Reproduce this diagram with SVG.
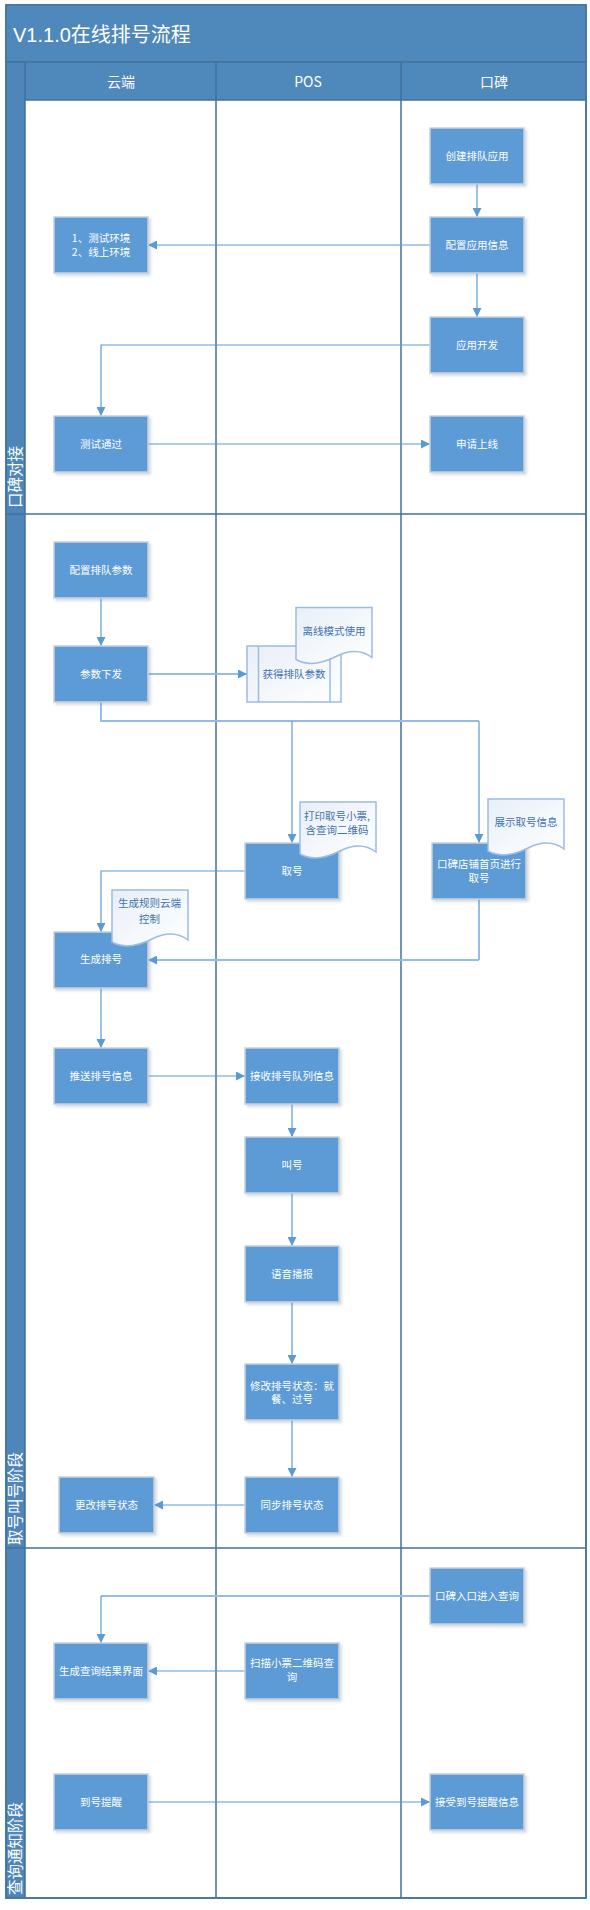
<svg xmlns="http://www.w3.org/2000/svg" width="590" height="1910" viewBox="0 0 590 1910">
<style>
.frame{fill:#ffffff;stroke:#41719C;stroke-width:1.5}
.bar{fill:#4F88BB}
.side{fill:#4E86B9}
.sep{stroke:#41719C;stroke-width:1.5;fill:none}
.title{font-family:"Liberation Sans","Noto Sans CJK SC",sans-serif;font-size:20px;fill:#ffffff}
.head{font-family:"Noto Sans CJK SC","Liberation Sans",sans-serif;font-size:14px;fill:#ffffff;text-anchor:middle}
.lane{font-family:"Noto Sans CJK SC",sans-serif;font-size:15.5px;fill:#ffffff}
.box{fill:#5B9BD5;stroke:#C9D1DB;stroke-width:1.5;filter:url(#sh)}
.bt{font-family:"Noto Sans CJK SC",sans-serif;font-size:10.5px;fill:#ffffff;text-anchor:middle}
.doc{fill:url(#dg);stroke:#9CBCE2;stroke-width:1.5}
.dt{font-family:"Noto Sans CJK SC",sans-serif;font-size:10.5px;fill:#3F72AF;text-anchor:middle}
.c{fill:none;stroke:#5B9BD5;stroke-width:1.2;marker-end:url(#ah)}
.cl{fill:none;stroke:#94BDE5;stroke-width:2;marker-end:url(#ah)}
.cn{fill:none;stroke:#5B9BD5;stroke-width:1.2}
.cln{fill:none;stroke:#94BDE5;stroke-width:2}
</style>
<defs>
<filter id="sh" x="-10%" y="-10%" width="130%" height="130%">
<feDropShadow dx="2" dy="2" stdDeviation="1.5" flood-color="#8090A0" flood-opacity="0.35"/>
</filter>
<linearGradient id="dg" x1="0" y1="0" x2="1" y2="1">
<stop offset="0" stop-color="#E8EFF8"/>
<stop offset="1" stop-color="#FFFFFF"/>
</linearGradient>
<marker id="ah" viewBox="0 0 10 10" refX="10" refY="5" markerWidth="9" markerHeight="9" markerUnits="userSpaceOnUse" orient="auto">
<path d="M0,0 L10,5 L0,10 z" fill="#5B9BD5"/>
</marker>
<path id="docshape" d="M0,0 H76 V50 C64,41 52,43 40,49 C30,54 14,60 0,52 Z"/>
</defs>

<!-- frame and lanes -->
<g id="swimlanes">
<rect class="frame" x="6" y="5" width="580" height="1893"/>
<rect class="bar" x="6" y="5" width="580" height="57"/>
<rect class="bar" x="25" y="62" width="561" height="38"/>
<rect class="side" x="6" y="62" width="19" height="1836"/>
<line class="sep" x1="6" y1="62" x2="586" y2="62"/>
<line class="sep" x1="25" y1="100" x2="586" y2="100"/>
<line class="sep" x1="25" y1="62" x2="25" y2="1898"/>
<line class="sep" x1="216" y1="62" x2="216" y2="1898"/>
<line class="sep" x1="401" y1="62" x2="401" y2="1898"/>
<line class="sep" x1="6" y1="514" x2="586" y2="514"/>
<line class="sep" x1="6" y1="1548" x2="586" y2="1548"/>
<rect x="6" y="5" width="580" height="1893" fill="none" stroke="#41719C" stroke-width="1.5"/>
<text class="title" x="13" y="42">V1.1.0在线排号流程</text>
<text class="head" x="121" y="87">云端</text>
<text class="head" x="308" y="87">POS</text>
<text class="head" x="494" y="87">口碑</text>
<text class="lane" transform="translate(21,508) rotate(-90)">口碑对接</text>
<text class="lane" transform="translate(21,1545) rotate(-90)">取号叫号阶段</text>
<text class="lane" transform="translate(21,1895) rotate(-90)">查询通知阶段</text>
</g>

<!-- connectors -->
<g id="connectors">
<path class="c" d="M477,184 V217"/>
<path class="c" d="M430,245 H148"/>
<path class="c" d="M477,273 V317"/>
<path class="c" d="M430,345 H101 V416"/>
<path class="c" d="M148,444 H430"/>
<path class="c" d="M101,598 V646"/>
<path class="cl" d="M148,674 H247"/>
<path class="cln" d="M101,702 V721 H479"/>
<path class="c" d="M479,721 V843"/>
<path class="c" d="M292,721 V843"/>
<path class="c" d="M245,871 H101 V932"/>
<path class="cln" d="M479,899 V960"/>
<path class="cl" d="M479,960 H148"/>
<path class="c" d="M101,988 V1048"/>
<path class="c" d="M148,1076 H245"/>
<path class="c" d="M292,1104 V1137"/>
<path class="c" d="M292,1193 V1246"/>
<path class="c" d="M292,1302 V1364"/>
<path class="c" d="M292,1420 V1477"/>
<path class="c" d="M245,1505 H154"/>
<path class="cln" d="M430,1596 H101"/>
<path class="c" d="M101,1596 V1643"/>
<path class="c" d="M245,1671 H148"/>
<path class="c" d="M148,1802 H430"/>
</g>

<!-- phase 1 -->
<g id="n-create"><rect class="box" x="430" y="128" width="94" height="56"/><text class="bt" x="477" y="160">创建排队应用</text></g>
<g id="n-config"><rect class="box" x="430" y="217" width="94" height="56"/><text class="bt" x="477" y="249">配置应用信息</text></g>
<g id="n-env"><rect class="box" x="54" y="217" width="94" height="56"/><text class="bt" x="101" y="242">1、测试环境</text><text class="bt" x="101" y="256">2、线上环境</text></g>
<g id="n-dev"><rect class="box" x="430" y="317" width="94" height="56"/><text class="bt" x="477" y="349">应用开发</text></g>
<g id="n-test"><rect class="box" x="54" y="416" width="94" height="56"/><text class="bt" x="101" y="448">测试通过</text></g>
<g id="n-apply"><rect class="box" x="430" y="416" width="94" height="56"/><text class="bt" x="477" y="448">申请上线</text></g>

<!-- phase 2 -->
<g id="n-qparam"><rect class="box" x="54" y="542" width="94" height="56"/><text class="bt" x="101" y="574">配置排队参数</text></g>
<g id="n-send"><rect class="box" x="54" y="646" width="94" height="56"/><text class="bt" x="101" y="678">参数下发</text></g>
<g id="n-get">
<rect class="doc" x="247" y="646" width="94" height="56"/>
<line x1="258.5" y1="646" x2="258.5" y2="702" stroke="#9CBCE2" stroke-width="1.5"/>
<line x1="330" y1="646" x2="330" y2="702" stroke="#9CBCE2" stroke-width="1.5"/>
<text class="dt" x="294" y="678">获得排队参数</text>
</g>
<g id="n-offline"><use href="#docshape" class="doc" x="296" y="607.5"/><text class="dt" x="334" y="634.5">离线模式使用</text></g>
<g id="n-take"><rect class="box" x="245" y="843" width="94" height="56"/><text class="bt" x="292" y="875">取号</text></g>
<g id="n-print"><use href="#docshape" class="doc" x="300" y="802"/><text class="dt" x="337" y="819.5">打印取号小票,</text><text class="dt" x="337" y="834">含查询二维码</text></g>
<g id="n-kbtake"><rect class="box" x="432" y="843" width="94" height="56"/><text class="bt" x="479" y="868">口碑店铺首页进行</text><text class="bt" x="479" y="882">取号</text></g>
<g id="n-show"><use href="#docshape" class="doc" x="488" y="799"/><text class="dt" x="526" y="825.5">展示取号信息</text></g>
<g id="n-gen"><rect class="box" x="54" y="932" width="94" height="56"/><text class="bt" x="101" y="963">生成排号</text></g>
<g id="n-rule"><use href="#docshape" class="doc" x="112" y="890"/><text class="dt" x="149.5" y="907">生成规则云端</text><text class="dt" x="149.5" y="922.5">控制</text></g>
<g id="n-push"><rect class="box" x="54" y="1048" width="94" height="56"/><text class="bt" x="101" y="1080">推送排号信息</text></g>
<g id="n-recv"><rect class="box" x="245" y="1048" width="94" height="56"/><text class="bt" x="292" y="1080">接收排号队列信息</text></g>
<g id="n-call"><rect class="box" x="245" y="1137" width="94" height="56"/><text class="bt" x="292" y="1169">叫号</text></g>
<g id="n-voice"><rect class="box" x="245" y="1246" width="94" height="56"/><text class="bt" x="292" y="1278">语音播报</text></g>
<g id="n-modify"><rect class="box" x="245" y="1364" width="94" height="56"/><text class="bt" x="292" y="1389.5">修改排号状态：就</text><text class="bt" x="292" y="1403">餐、过号</text></g>
<g id="n-sync"><rect class="box" x="245" y="1477" width="94" height="56"/><text class="bt" x="292" y="1509">同步排号状态</text></g>
<g id="n-change"><rect class="box" x="59" y="1477" width="95" height="56"/><text class="bt" x="106.5" y="1509">更改排号状态</text></g>

<!-- phase 3 -->
<g id="n-kbquery"><rect class="box" x="430" y="1568" width="94" height="56"/><text class="bt" x="477" y="1600">口碑入口进入查询</text></g>
<g id="n-result"><rect class="box" x="54" y="1643" width="94" height="56"/><text class="bt" x="101" y="1675">生成查询结果界面</text></g>
<g id="n-scan"><rect class="box" x="245" y="1643" width="94" height="56"/><text class="bt" x="292" y="1667">扫描小票二维码查</text><text class="bt" x="292" y="1681">询</text></g>
<g id="n-remind"><rect class="box" x="54" y="1774" width="94" height="56"/><text class="bt" x="101" y="1806">到号提醒</text></g>
<g id="n-recvremind"><rect class="box" x="430" y="1774" width="94" height="56"/><text class="bt" x="477" y="1806">接受到号提醒信息</text></g>
</svg>
